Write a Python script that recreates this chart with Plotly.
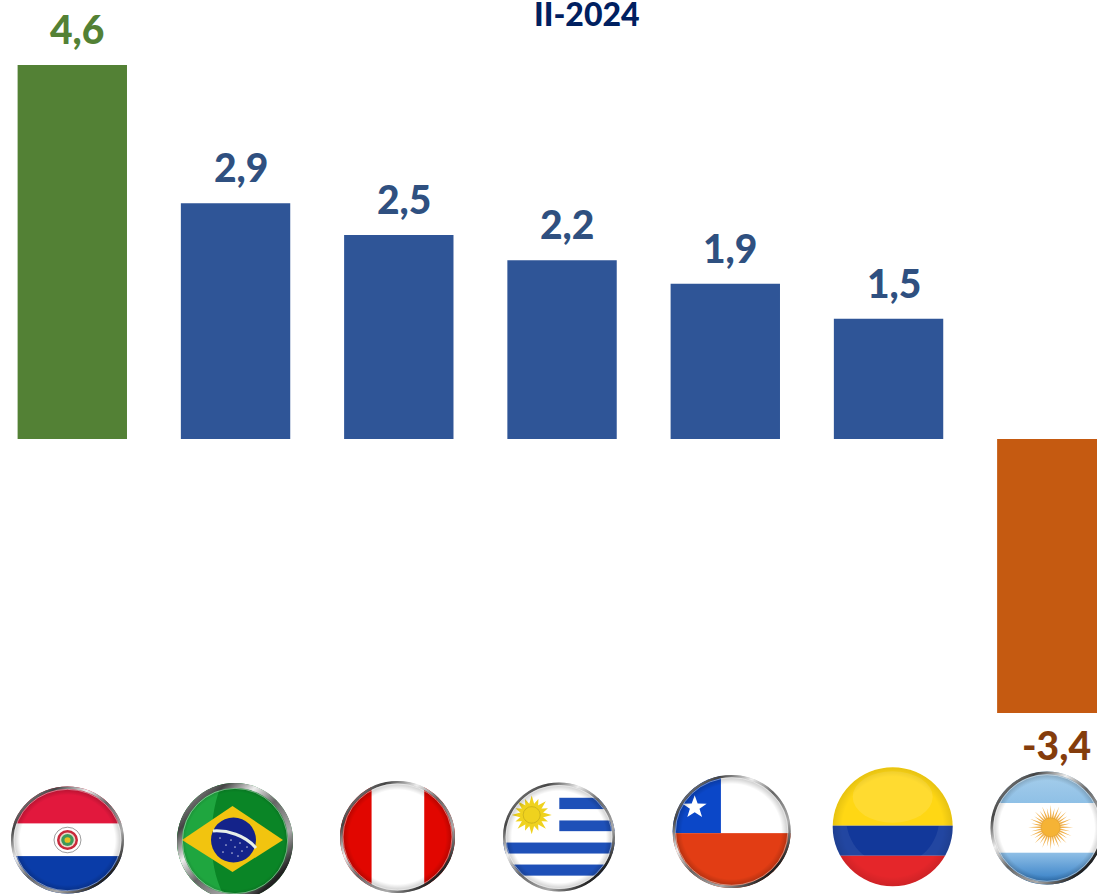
import base64, math
import plotly.graph_objects as go

countries = ["Paraguay", "Brasil", "Perú", "Uruguay", "Chile", "Colombia", "Argentina"]
values = [4.6, 2.9, 2.51, 2.2, 1.91, 1.48, -3.37]
labels = ["4,6", "2,9", "2,5", "2,2", "1,9", "1,5", "-3,4"]
bar_colors = ["#538135", "#2F5597", "#2F5597", "#2F5597", "#2F5597", "#2F5597", "#C55A11"]
label_colors = ["#538135", "#2F5080", "#2F5080", "#2F5080", "#2F5080", "#2F5080", "#843C0C"]
title_text = "II-2024"

W, H = 1097, 894
FONT = "Lato"

# ---------- flag artwork (inline SVG used as layout images) ----------
def star(cx, cy, r, fill="#fff"):
    pts = []
    for k in range(10):
        a = -math.pi / 2 + k * math.pi / 5
        q = r if k % 2 == 0 else r * 0.4
        pts.append(f"{cx + q * math.cos(a):.2f},{cy + q * math.sin(a):.2f}")
    return f'<polygon points="{" ".join(pts)}" fill="{fill}"/>'

def sun(cx, cy, r_out, r_in, n, fill, ray_w):
    s = ""
    for k in range(n):
        a = 2 * math.pi * k / n
        p = a + math.pi / 2
        ro = r_out if k % 2 == 0 else r_out * 0.88
        x0, y0 = cx + r_in * math.cos(a), cy + r_in * math.sin(a)
        s += (f'<polygon points="{x0 + ray_w * math.cos(p):.2f},{y0 + ray_w * math.sin(p):.2f} '
              f'{x0 - ray_w * math.cos(p):.2f},{y0 - ray_w * math.sin(p):.2f} '
              f'{cx + ro * math.cos(a):.2f},{cy + ro * math.sin(a):.2f}" fill="{fill}"/>')
    return s

def flag_svg(body, r, ring=True, ring_w=2.6):
    R = r + 1
    ring_svg = ""
    if ring:
        ring_svg = (f'<circle r="{r - ring_w / 2}" fill="none" stroke="url(#ring)" stroke-width="{ring_w}"/>'
                    f'<circle r="{r - ring_w - 0.4}" fill="none" stroke="#fff" stroke-opacity="0.55" stroke-width="0.8"/>')
    svg = f'''<svg xmlns="http://www.w3.org/2000/svg" width="{2*R*4}" height="{2*R*4}" viewBox="{-R} {-R} {2*R} {2*R}" preserveAspectRatio="none">
<defs>
<clipPath id="c"><circle r="{r}"/></clipPath>
<radialGradient id="shade"><stop offset="0.84" stop-color="#000" stop-opacity="0"/><stop offset="1" stop-color="#000" stop-opacity="{0.28 if ring else 0.10}"/></radialGradient>
<linearGradient id="ring" x1="0" y1="0" x2="1" y2="1">
<stop offset="0" stop-color="#bbb"/><stop offset="0.2" stop-color="#444"/><stop offset="0.35" stop-color="#eee"/>
<stop offset="0.5" stop-color="#666"/><stop offset="0.7" stop-color="#aaa"/><stop offset="0.85" stop-color="#222"/><stop offset="1" stop-color="#111"/></linearGradient>
</defs>
<g clip-path="url(#c)">{body}<circle r="{r}" fill="url(#shade)"/></g>{ring_svg}</svg>'''
    return "data:image/svg+xml;base64," + base64.b64encode(svg.encode()).decode()

def rect(x, y, w, h, fill):
    return f'<rect x="{x}" y="{y}" width="{w}" height="{h}" fill="{fill}"/>'

# Paraguay
py_body = (rect(-60, -60, 120, 43, "#E2183D") + rect(-60, -17.5, 120, 35, "#fff") + rect(-60, 17, 120, 43, "#0A3CA8")
           + '<circle cy="0" r="13.5" fill="#fff" stroke="#555" stroke-width="0.6"/>'
           + '<circle r="10.5" fill="#C8283A"/><circle r="8" fill="#E8D8C8"/><circle r="6.3" fill="#3C9A5A"/><circle r="3" fill="#E8C020"/>')
# Brasil
br_body = (rect(-60, -60, 120, 120, "#0A8526")
           + '<path d="M-60,-60H-12C-26,-30 -30,25 -8,60H-60Z" fill="#1FA63F"/>'
           + '<polygon points="-53,-1 -2.5,-35 48,-1 -2.5,31" fill="#F2C40F"/>'
           + '<circle cx="-1.5" cy="-1" r="22.5" fill="#14238A"/>'
           + '<path d="M-22,-10C-8,-11 10,-6 21,7" fill="none" stroke="#E8F0E8" stroke-width="3"/>'
           + "".join(star(x, y, 1.1) for x, y in [(-15, -3), (-9, 4), (-4, -1), (0, 6), (5, 2), (-12, 11), (-3, 12), (7, 10), (12, 6), (3, 15)]))
# Perú
pe_body = rect(-60, -60, 120, 120, "#fff") + rect(-60, -60, 34.3, 120, "#E10600") + rect(26.5, -60, 34, 120, "#E10600")
# Uruguay
uy_body = (rect(-60, -60, 120, 120, "#fff") + rect(0.3, -40.3, 60, 11.6, "#1E50B8") + rect(0.3, -17, 60, 11, "#1E50B8")
           + rect(-60, 5.7, 120, 11.3, "#1E50B8") + rect(-60, 28.3, 120, 11.4, "#1E50B8")
           + sun(-27.3, -22.7, 20, 8, 16, "#EFD21E", 3.4) + '<circle cx="-27.3" cy="-22.7" r="8.5" fill="#EFD21E" stroke="#A08A10" stroke-width="0.4"/>')
# Chile
cl_body = (rect(-60, -60, 120, 61.7, "#fff") + rect(-60, -60, 49.3, 61.7, "#0B47C8") + rect(-60, 1.7, 120, 60, "#E23D14")
           + star(-36.7, -25, 12.5))
# Colombia
co_body = (rect(-61, -61, 122, 60, "#FFD714") + rect(-61, -1, 122, 30.3, "#12389A") + rect(-61, 29.3, 122, 32, "#E5262A")
           + '<ellipse cx="0" cy="-30" rx="40" ry="26" fill="#fff" fill-opacity="0.12"/>'
           + '<path d="M-61,-1H-46C-44,12 -36,24 -28,29.3H-61Z" fill="#fff" fill-opacity="0.07"/>'
           + '<path d="M61,-1H46C44,12 36,24 28,29.3H61Z" fill="#fff" fill-opacity="0.07"/>')
# Argentina
ar_body = ('<defs><linearGradient id="t" x1="0" y1="0" x2="0" y2="1"><stop offset="0" stop-color="#A9D0EC"/><stop offset="1" stop-color="#8FC0E6"/></linearGradient>'
           '<linearGradient id="b" x1="0" y1="0" x2="0" y2="1"><stop offset="0" stop-color="#8FBFE6"/><stop offset="1" stop-color="#1F6FBE"/></linearGradient></defs>'
           + '<rect x="-60" y="-60" width="120" height="35" fill="url(#t)"/>' + rect(-60, -25, 120, 49.7, "#fff")
           + '<rect x="-60" y="24.7" width="120" height="36" fill="url(#b)"/>'
           + sun(3.7, -0.7, 22.5, 8, 32, "#F0B04A", 1.0) + '<circle cx="3.7" cy="-0.7" r="9.5" fill="#F5B335" stroke="#C88A20" stroke-width="0.3"/>')

# centre x, centre y, artwork radius, drawn half-width, drawn half-height, body, ring, ring width
flags = [
    (67.5, 840, 56.5, 56.5, 53.5, py_body, True, 2.6),
    (235, 841, 58, 58, 58, br_body, True, 5),
    (397.5, 837, 57, 57.5, 56, pe_body, True, 2.6),
    (559, 837, 56, 56, 54.5, uy_body, True, 2.6),
    (731.7, 831.5, 58.5, 59, 56.5, cl_body, True, 2.4),
    (892.7, 826.7, 60, 60, 59.5, co_body, False, 0),
    (1047, 828, 56.5, 56.5, 56.5, ar_body, True, 2.8),
]
images = []
for cx, cy, r, hw, hh, body, ring, rw in flags:
    k = (r + 1) / r
    images.append(dict(source=flag_svg(body, r, ring, rw), xref="paper", yref="paper",
                       x=(cx - hw * k) / W, y=1 - (cy - hh * k) / H, sizex=2 * hw * k / W, sizey=2 * hh * k / H,
                       xanchor="left", yanchor="top", sizing="stretch", layer="above"))

# ---------- chart ----------
PX_PER_CAT = 163.25
PX_PER_UNIT = 81.3
X0 = 72.3
fig = go.Figure(go.Bar(x=countries, y=values, marker=dict(color=bar_colors, line_width=0), hoverinfo="skip"))

annotations = [dict(text=t, x=c, y=v, xref="x", yref="y", showarrow=False, xshift=5,
                    yshift=(11 if v > 0 else -7), yanchor="bottom" if v > 0 else "top",
                    font=dict(family=FONT, size=39, color=col, weight=900))
               for c, v, t, col in zip(countries, values, labels, label_colors)]
annotations.append(dict(text=title_text, x=587 / W, y=1.0, xref="paper", yref="paper", yanchor="top",
                        yshift=8, showarrow=False, font=dict(family=FONT, size=32, color="#002060", weight=900)))

fig.update_layout(
    width=W, height=H, margin=dict(l=0, r=0, t=0, b=0), paper_bgcolor="#fff", plot_bgcolor="#fff",
    bargap=0.33, showlegend=False, images=images, annotations=annotations,
    xaxis=dict(visible=False, type="category", categoryorder="array", categoryarray=countries,
               range=[-X0 / PX_PER_CAT, (W - X0) / PX_PER_CAT]),
    yaxis=dict(visible=False, range=[-(H - 439) / PX_PER_UNIT, 439 / PX_PER_UNIT]),
)
fig.write_html("out.html", config=dict(displayModeBar=False),
               post_script="document.body.style.margin='0';document.documentElement.style.overflow='hidden';")
